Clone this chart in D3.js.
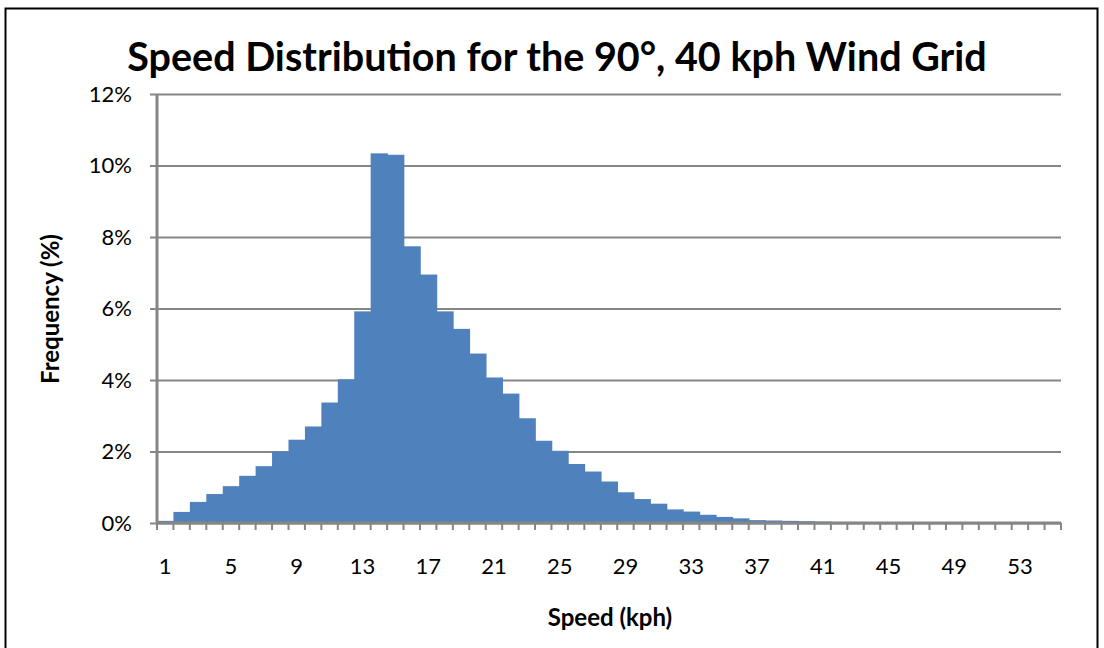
<!DOCTYPE html>
<html>
<head>
<meta charset="utf-8">
<script src="https://cdn.jsdelivr.net/npm/d3@7"></script>
<style>
  body { margin: 0; background: #fff; }
  text { font-family: Lato, "Open Sans", sans-serif; fill: #000; }
</style>
</head>
<body>
<div id="chart"></div>
<script>
// speed bins (kph) and frequency (%)
const speeds = d3.range(1, 56);
const freq = [
  0.06, 0.31, 0.59, 0.81, 1.03, 1.32, 1.59, 2.00, 2.33, 2.70,
  3.37, 4.02, 5.92, 10.34, 10.30, 7.74, 6.95, 5.92, 5.43, 4.74,
  4.07, 3.62, 2.93, 2.30, 2.02, 1.65, 1.44, 1.16, 0.86, 0.67,
  0.54, 0.38, 0.32, 0.23, 0.17, 0.13, 0.08, 0.07, 0.06, 0.05,
  0.04, 0.03, 0.03, 0.02, 0.02, 0.02, 0.01, 0.01, 0.01, 0.01,
  0.01, 0.01, 0.01, 0.01, 0.01
];
const yTicks = [0, 2, 4, 6, 8, 10, 12];
const xLabels = [1, 5, 9, 13, 17, 21, 25, 29, 33, 37, 41, 45, 49, 53];

const data = speeds.map((s, i) => ({ speed: s, value: freq[i] }));

const width = 1104, height = 648;
const svg = d3.select("#chart")
  .append("svg")
    .attr("width", width)
    .attr("height", height);

// outer frame
svg.append("rect")
  .attr("x", 5.5).attr("y", 8.5)
  .attr("width", 1092).attr("height", 660)
  .attr("fill", "none")
  .attr("stroke", "#000")
  .attr("stroke-width", 2);

const x = d3.scaleBand()
  .domain(speeds)
  .range([157, 1061])
  .padding(0);

const y = d3.scaleLinear()
  .domain([0, 12])
  .range([523, 94]);

const axisColor = "#868686";

// gridlines + y axis
const yAxis = svg.append("g")
  .attr("transform", "translate(157,0)")
  .call(d3.axisLeft(y)
    .tickValues(yTicks)
    .tickSize(-(1061 - 157))
    .tickPadding(25)
    .tickFormat(d => d + "%"));
yAxis.select(".domain").remove();
yAxis.selectAll(".tick line")
  .attr("x1", -7)
  .attr("stroke", axisColor)
  .attr("stroke-width", 2);
yAxis.selectAll(".tick text")
  .attr("font-size", 22)
  .attr("font-family", "Lato")
  .attr("fill", "#000");

// bars (slight overlap so no seams between them)
svg.append("g")
  .selectAll("rect")
  .data(data)
  .join("rect")
    .attr("x", d => x(d.speed))
    .attr("width", x.bandwidth() + 0.8)
    .attr("y", d => y(d.value))
    .attr("height", d => y(0) - y(d.value))
    .attr("fill", "#4F81BD");

// y axis line
svg.append("line")
  .attr("x1", 157).attr("x2", 157)
  .attr("y1", y(12)).attr("y2", y(0))
  .attr("stroke", axisColor)
  .attr("stroke-width", 3);

// x axis with ticks at bin edges
const xAxis = svg.append("g")
  .attr("transform", `translate(0,${y(0)})`);
xAxis.append("line")
  .attr("x1", 157).attr("x2", 1061)
  .attr("stroke", axisColor)
  .attr("stroke-width", 3);
xAxis.selectAll(".edge")
  .data(speeds.concat([56]))
  .join("line")
    .attr("class", "edge")
    .attr("x1", d => d <= 55 ? x(d) : x(55) + x.bandwidth())
    .attr("x2", d => d <= 55 ? x(d) : x(55) + x.bandwidth())
    .attr("y1", 0).attr("y2", 7)
    .attr("stroke", axisColor)
    .attr("stroke-width", 2);
xAxis.selectAll(".lbl")
  .data(xLabels)
  .join("text")
    .attr("class", "lbl")
    .attr("x", d => x(d) + x.bandwidth() / 2)
    .attr("y", 51)
    .attr("text-anchor", "middle")
    .attr("font-size", 22)
    .text(d => d);

// titles
svg.append("text")
  .attr("x", 557).attr("y", 71)
  .attr("text-anchor", "middle")
  .attr("font-size", 39.5)
  .attr("font-weight", "bold")
  .text("Speed Distribution for the 90°, 40 kph Wind Grid");

svg.append("text")
  .attr("x", 610).attr("y", 626)
  .attr("text-anchor", "middle")
  .attr("font-size", 24)
  .attr("font-weight", "bold")
  .text("Speed (kph)");

svg.append("text")
  .attr("transform", "translate(59,309) rotate(-90)")
  .attr("text-anchor", "middle")
  .attr("font-size", 24)
  .attr("font-weight", "bold")
  .text("Frequency (%)");
</script>
</body>
</html>
